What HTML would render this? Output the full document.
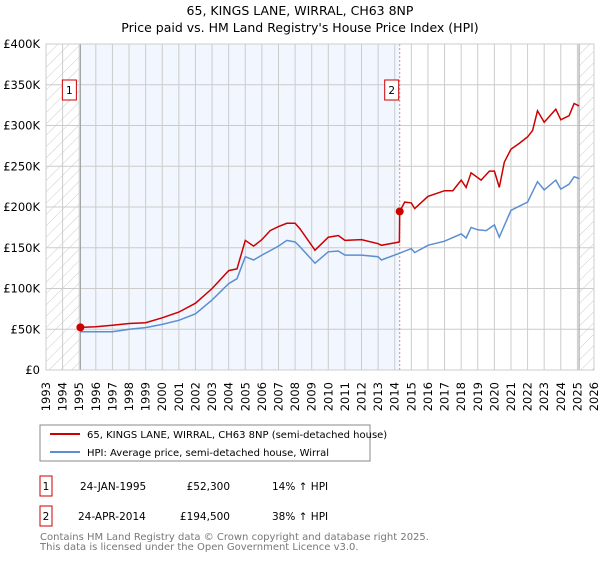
<!DOCTYPE html>
<html><head><meta charset="utf-8"><style>
body{margin:0;background:#fff;font-family:"Liberation Sans","DejaVu Sans",sans-serif;}
</style></head><body>
<svg width="600" height="560" xmlns="http://www.w3.org/2000/svg" style="font-family:'DejaVu Sans','Liberation Sans',sans-serif">
<defs>
<pattern id="hatch" width="8" height="8" patternUnits="userSpaceOnUse" patternTransform="rotate(45)">
<line x1="0" y1="0" x2="0" y2="8" stroke="#ccc" stroke-width="1"/>
</pattern>
</defs>
<text x="300" y="15" text-anchor="middle" font-size="12.5" fill="#000">65, KINGS LANE, WIRRAL, CH63 8NP</text>
<text x="300" y="32" text-anchor="middle" font-size="12.5" fill="#000">Price paid vs. HM Land Registry's House Price Index (HPI)</text>
<g id="plot"></g>
<g id="legend">
<rect x="40" y="425" width="330" height="36" fill="#fff" stroke="#888"/>
<line x1="50" y1="434" x2="80" y2="434" stroke="#cc0000" stroke-width="2"/>
<text x="87" y="438" font-size="10">65, KINGS LANE, WIRRAL, CH63 8NP (semi-detached house)</text>
<line x1="50" y1="452" x2="80" y2="452" stroke="#5b8fd0" stroke-width="2"/>
<text x="87" y="456" font-size="10">HPI: Average price, semi-detached house, Wirral</text>
</g>
<g font-size="10.5">
<rect x="40" y="476" width="12" height="20" fill="#fff" stroke="#cc0000"/>
<text x="46" y="490" text-anchor="middle">1</text>
<text x="80" y="490">24-JAN-1995</text>
<text x="230" y="490" text-anchor="end">£52,300</text>
<text x="272" y="490">14% ↑ HPI</text>
<rect x="40" y="506" width="12" height="20" fill="#fff" stroke="#cc0000"/>
<text x="46" y="520" text-anchor="middle">2</text>
<text x="78" y="520">24-APR-2014</text>
<text x="230" y="520" text-anchor="end">£194,500</text>
<text x="272" y="520">38% ↑ HPI</text>
</g>
<text x="40" y="540" font-size="10" fill="#777">Contains HM Land Registry data © Crown copyright and database right 2025.</text>
<text x="40" y="550" font-size="10" fill="#777">This data is licensed under the Open Government Licence v3.0.</text>
</svg>
<script>
const yTicks=[0,50,100,150,200,250,300,350,400];
const yTickLabels=["£0","£50K","£100K","£150K","£200K","£250K","£300K","£350K","£400K"];
const xYears=[1993,1994,1995,1996,1997,1998,1999,2000,2001,2002,2003,2004,2005,2006,2007,2008,2009,2010,2011,2012,2013,2014,2015,2016,2017,2018,2019,2020,2021,2022,2023,2024,2025,2026];
const hpiYears=[1995.07,1996,1997,1998,1999,2000,2001,2002,2003,2004,2004.5,2005,2005.5,2006,2007,2007.5,2008,2008.3,2009.2,2010,2010.6,2011,2012,2013,2013.2,2014,2014.5,2015,2015.2,2016,2017,2018,2018.3,2018.6,2019,2019.5,2020,2020.3,2021,2021.5,2022,2022.6,2023,2023.7,2024,2024.5,2024.8,2025.1];
const hpiValues=[47,47,47,50,52,56,61,69,86,106,112,139,135,141,152,159,157,151,131,145,146,141,141,139,135,141,145,149,144,153,158,167,162,175,172,171,178,163,196,201,206,231,221,233,222,228,237,235];
const priceYears=[1995.07,1996,1997,1998,1999,2000,2001,2002,2003,2004,2004.5,2005,2005.5,2006,2006.5,2007,2007.5,2008,2008.3,2009.2,2010,2010.6,2011,2012,2013,2013.2,2014.28,2014.3,2014.6,2015,2015.2,2016,2017,2017.5,2018,2018.3,2018.6,2019.2,2019.7,2020,2020.3,2020.6,2021,2021.5,2022,2022.3,2022.6,2023,2023.7,2024,2024.5,2024.8,2025.1];
const priceValues=[52.3,53,55,57,58,64,71,82,100,122,124,159,152,160,171,176,180,180,173,147,163,165,159,160,155,153,157,194.5,206,205,198,213,220,220,233,224,242,233,244,244,224,255,271,278,286,294,318,304,320,307,312,327,324];
const saleYears=[1995.07,2014.3];
const saleValues=[52.3,194.5];
const saleLabels=["1","2"];

const X0=46,X1=594,Y0=370,Y1=44;
const xs=y=>X0+(y-1993)/(2026-1993)*(X1-X0);
const ys=v=>Y0-v/400*(Y0-Y1);
const NS="http://www.w3.org/2000/svg";
const g=document.getElementById('plot');
function mk(t,a,p){const e=document.createElementNS(NS,t);for(const k in a)e.setAttribute(k,a[k]);(p||g).appendChild(e);return e;}
let e;
e=mk('rect',{x:X0,y:Y1,width:X1-X0,height:Y0-Y1,fill:'#fff'});


e=mk('rect',{x:xs(saleYears[0]),y:Y1,width:xs(saleYears[1])-xs(saleYears[0]),height:Y0-Y1,fill:'#f2f6fe'});


e=mk('rect',{x:X0,y:Y1,width:xs(1995.07)-X0,height:Y0-Y1,fill:'url(#hatch)'});


e=mk('rect',{x:xs(2025.1),y:Y1,width:X1-xs(2025.1),height:Y0-Y1,fill:'url(#hatch)'});


yTicks.forEach((v,i)=>{
 e=mk('line',{x1:X0,x2:X1,y1:ys(v),y2:ys(v),stroke:'#ccc','stroke-width':1});
 
 
 e=mk('text',{x:X0-6,y:ys(v)+4,'text-anchor':'end','font-size':11.5,fill:'#000'});
 e.textContent=yTickLabels[i];
 
 
});
xYears.forEach(y=>{
 e=mk('line',{x1:xs(y),x2:xs(y),y1:Y1,y2:Y0,stroke:'#ccc','stroke-width':1});
 
 
 e=mk('text',{x:0,y:0,'text-anchor':'end','font-size':11.5,fill:'#000',transform:`translate(${xs(y)+4},${Y0+12}) rotate(-90)`});
 e.textContent=y;
 
 
});
e=mk('line',{x1:xs(1995.07),x2:xs(1995.07),y1:Y1,y2:Y0,stroke:'#999','stroke-width':1});


e=mk('line',{x1:xs(2025.1),x2:xs(2025.1),y1:Y1,y2:Y0,stroke:'#999','stroke-width':1});


e=mk('line',{x1:xs(saleYears[1]),x2:xs(saleYears[1]),y1:Y1,y2:Y0,stroke:'#f08080','stroke-width':1,'stroke-dasharray':'2,2'});


const pts=(a,b)=>a.map((y,i)=>xs(y).toFixed(1)+','+ys(b[i]).toFixed(1)).join(' ');
e=mk('polyline',{points:pts(hpiYears,hpiValues),fill:'none',stroke:'#5b8fd0','stroke-width':1.5});


e=mk('polyline',{points:pts(priceYears,priceValues),fill:'none',stroke:'#cc0000','stroke-width':1.5});


saleYears.forEach((y,i)=>{
 e=mk('circle',{cx:xs(y),cy:ys(saleValues[i]),r:4,fill:'#cc0000'});
 
 
 e=mk('rect',{x:xs(y)-(i==0?11:8)-7,y:80,width:14,height:20,fill:'#fff',stroke:'#cc0000'});
 
 
 e=mk('text',{x:xs(y)-(i==0?11:8),y:94,'text-anchor':'middle','font-size':10.5});
 e.textContent=saleLabels[i];
 
 
});
e=mk('rect',{x:X0,y:Y1,width:X1-X0,height:Y0-Y1,fill:'none',stroke:'#ccc'});


</script>
</body></html>
